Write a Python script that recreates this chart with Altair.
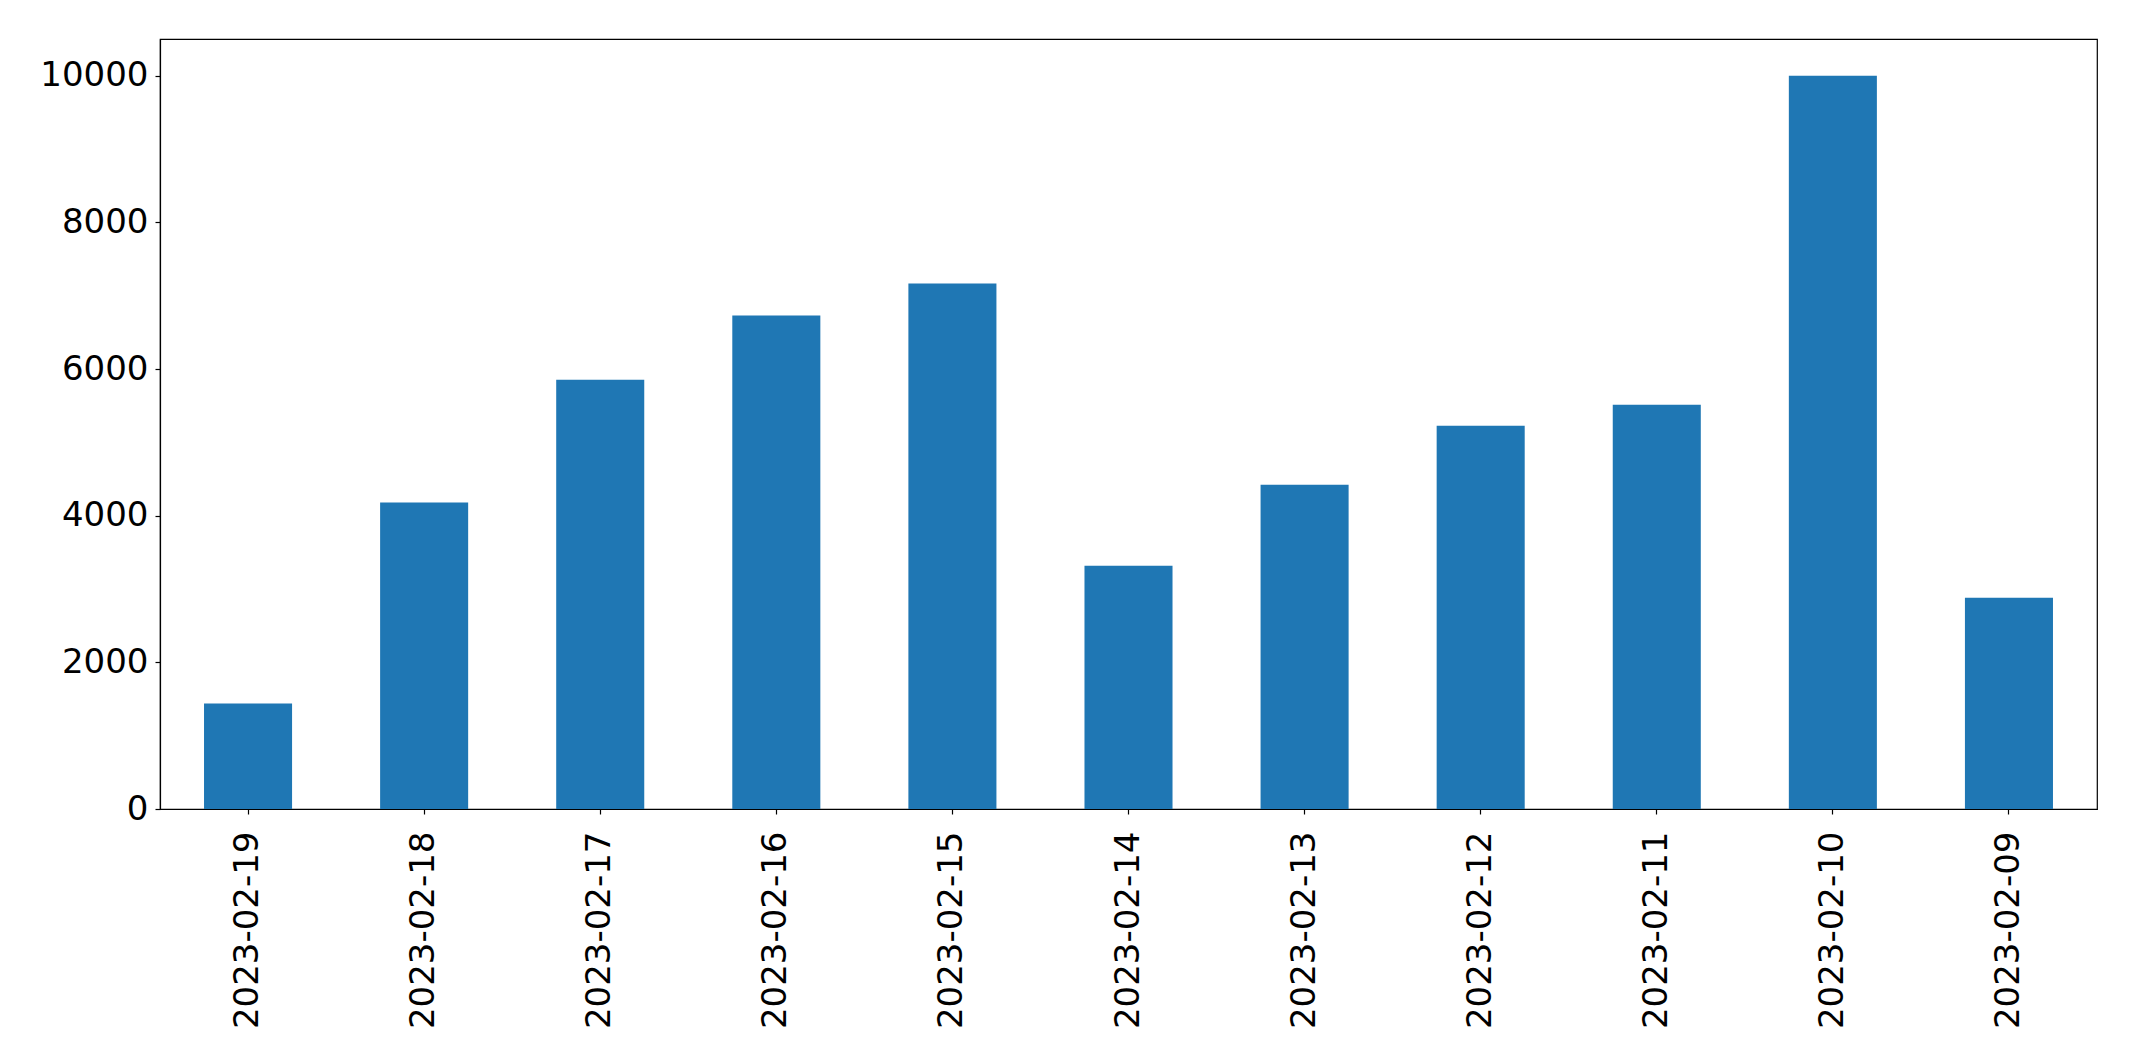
import altair as alt
import pandas as pd

dates = ["2023-02-19", "2023-02-18", "2023-02-17", "2023-02-16", "2023-02-15",
         "2023-02-14", "2023-02-13", "2023-02-12", "2023-02-11", "2023-02-10",
         "2023-02-09"]
counts = [1437, 4180, 5855, 6729, 7165, 3317, 4422, 5227, 5514, 10000, 2880]
y_ticks = [0, 2000, 4000, 6000, 8000, 10000]

df = pd.DataFrame({"date": dates, "count": counts})

FONT = "DejaVu Sans"

chart = alt.Chart(df).mark_bar(color="#1f77b4").encode(
    x=alt.X("date:N", sort=None,
            scale=alt.Scale(paddingInner=0.5, paddingOuter=0.25),
            axis=alt.Axis(title=None, labelAngle=270, labelAlign="right",
                          labelBaseline="middle", labelFontSize=34,
                          labelFont=FONT, labelColor="black", labelPadding=17,
                          labelLimit=0,
                          tickColor="black", tickSize=5, tickWidth=1.2,
                          domainColor="black", domainWidth=1.2, grid=False)),
    y=alt.Y("count:Q",
            scale=alt.Scale(domain=[0, 10500], nice=False, zero=True),
            axis=alt.Axis(title=None, values=y_ticks, format="d",
                          labelFontSize=34, labelLimit=0,
                          labelFont=FONT, labelColor="black", labelPadding=7,
                          tickColor="black", tickSize=5, tickWidth=1.2,
                          domainColor="black", domainWidth=1.2, grid=False)),
).properties(
    width=1937,
    height=770,
    autosize=alt.AutoSizeParams(type="none"),
    padding={"left": 152, "top": 31, "right": 30, "bottom": 240},
).configure(
    background="white"
).configure_view(
    stroke="black", strokeWidth=1.2
)

chart.save("out.html", embed_options={"renderer": "svg", "actions": False})
